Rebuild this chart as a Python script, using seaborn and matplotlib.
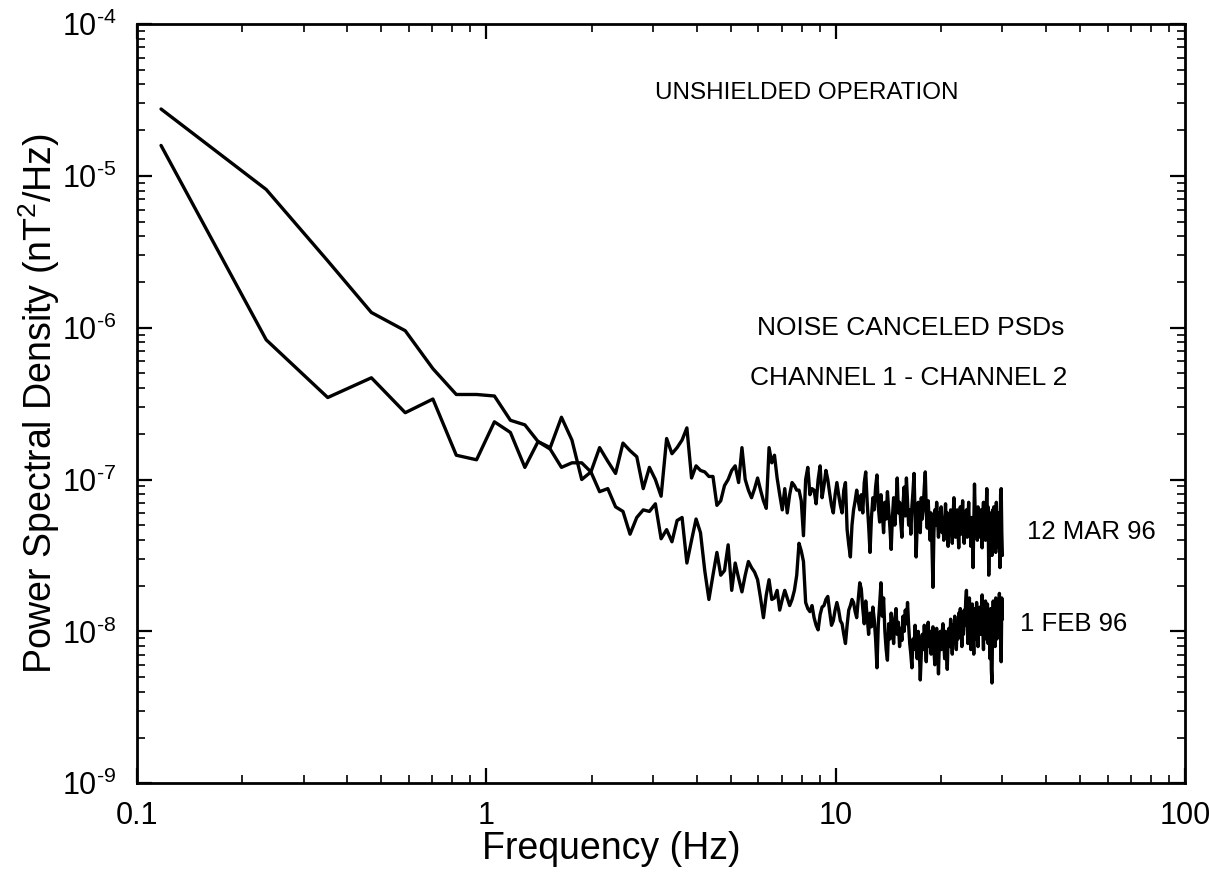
"""
Noise canceled PSDs (channel 1 - channel 2), unshielded operation.
Two runs (1 FEB 96, 12 MAR 96) on log-log axes.
"""
import numpy as np
import pandas as pd
import seaborn as sns
import matplotlib
matplotlib.use("Agg")
import matplotlib.pyplot as plt
from matplotlib.ticker import LogLocator, FuncFormatter, NullFormatter


"""
1. Data (log10 of PSD in nT^2/Hz, one value per FFT bin)
"""
# bin spacing of the spectra, Hz (bins 1..256 -> 0.117 .. 30 Hz)
bin_width_hz = 30 / 256

feb_log10_psd = [
    # bins 1-30
    -4.56, -5.09, -5.56, -5.90, -6.02, -6.27, -6.44, -6.44, -6.45, -6.61,
    -6.64, -6.75, -6.80, -6.92, -6.89, -6.89, -6.95, -7.08, -7.06, -7.18,
    -7.21, -7.36, -7.25, -7.20, -7.21, -7.16, -7.39, -7.33, -7.41, -7.27,
    # bins 31-100
    -7.25, -7.55, -7.40, -7.26, -7.35, -7.60, -7.79, -7.63, -7.48, -7.63,
    -7.60, -7.43, -7.73, -7.55, -7.65, -7.74, -7.63, -7.54, -7.58, -7.61,
    -7.66, -7.78, -7.91, -7.76, -7.66, -7.79, -7.78, -7.73, -7.86, -7.79,
    -7.73, -7.78, -7.83, -7.79, -7.73, -7.63, -7.42, -7.47, -7.54, -7.81,
    -7.85, -7.87, -7.83, -7.91, -7.96, -7.99, -7.89, -7.84, -7.83, -7.79,
    -7.77, -7.87, -7.96, -7.93, -7.86, -7.81, -7.86, -7.93, -7.95, -8.02,
    -8.08, -7.96, -7.86, -7.83, -7.79, -7.81, -7.87, -7.91, -7.79, -7.68,
    # bins 101-256
    -7.72, -7.85, -7.95, -7.80, -7.90, -8.02, -7.88, -7.97, -7.84, -7.92,
    -8.05, -8.24, -7.95, -7.82, -7.68, -7.90, -7.78, -8.00, -8.12, -8.19,
    -7.95, -8.05, -7.88, -7.98, -8.08, -7.92, -7.85, -8.02, -7.94, -8.10,
    -7.98, -8.06, -7.90, -8.00, -7.86, -7.95, -7.81, -7.96, -8.08, -8.15,
    -8.24, -8.05, -8.12, -7.96, -8.08, -8.18, -8.00, -8.10, -8.32, -8.15,
    -8.02, -8.12, -7.96, -8.08, -8.20, -8.03, -7.94, -8.10, -8.00, -8.15,
    -8.05, -7.97, -8.12, -8.22, -8.04, -7.98, -8.10, -8.28, -8.06, -8.00,
    -8.12, -8.02, -7.95, -8.08, -8.18, -8.00, -8.10, -8.25, -8.05, -7.98,
    -8.10, -7.92, -8.04, -8.15, -7.96, -8.06, -7.90, -8.02, -8.12, -7.95,
    -8.05, -7.88, -8.00, -7.85, -7.98, -8.10, -7.92, -8.02, -7.86, -7.96,
    -7.80, -7.73, -7.95, -8.08, -7.88, -7.78, -7.96, -8.12, -7.90, -7.82,
    -7.98, -8.15, -7.92, -7.85, -8.05, -7.81, -7.94, -8.10, -7.88, -7.96,
    -7.84, -8.02, -7.90, -7.76, -7.98, -8.12, -7.86, -7.95, -7.80, -8.05,
    -7.92, -7.82, -8.08, -7.88, -8.00, -8.18, -7.85, -8.25, -8.34, -7.95,
    -7.80, -7.96, -7.85, -8.10, -7.78, -7.92, -8.05, -7.82, -7.98, -7.88,
    -7.75, -8.02, -7.90, -8.20, -7.78, -7.92,
]

mar_log10_psd = [
    # bins 1-30
    -4.80, -6.08, -6.46, -6.33, -6.56, -6.47, -6.84, -6.87, -6.62, -6.69,
    -6.92, -6.75, -6.79, -6.59, -6.74, -7.00, -6.95, -6.79, -6.88, -6.96,
    -6.76, -6.81, -6.85, -7.06, -6.92, -7.00, -7.11, -6.73, -6.83, -6.79,
    # bins 31-100
    -6.74, -6.66, -6.99, -6.91, -6.94, -6.95, -6.98, -6.98, -7.17, -7.14,
    -7.04, -7.00, -6.94, -6.91, -7.02, -6.79, -7.00, -7.07, -7.12, -7.06,
    -6.99, -7.07, -7.14, -7.19, -6.79, -6.89, -6.84, -6.99, -7.10, -7.20,
    -7.06, -7.22, -7.10, -7.02, -7.04, -7.07, -7.07, -7.14, -7.37, -7.00,
    -6.92, -7.10, -7.06, -7.07, -7.16, -7.00, -6.91, -7.12, -7.04, -6.94,
    -7.00, -7.09, -7.17, -7.22, -7.10, -7.02, -7.10, -7.17, -7.22, -7.07,
    -7.02, -7.33, -7.43, -7.51, -7.30, -7.20, -7.14, -7.07, -7.14, -7.20,
    # bins 101-256
    -7.10, -7.22, -7.02, -6.95, -7.15, -7.30, -7.48, -7.25, -7.12, -7.20,
    -7.05, -6.97, -7.18, -7.28, -7.10, -7.22, -7.35, -7.15, -7.26, -7.08,
    -7.20, -7.32, -7.46, -7.25, -7.12, -7.30, -7.18, -6.99, -7.22, -7.15,
    -7.28, -7.38, -7.16, -7.05, -7.24, -6.99, -7.15, -7.30, -7.20, -7.36,
    -7.18, -7.08, -6.96, -7.25, -7.51, -7.30, -7.15, -7.22, -7.35, -7.12,
    -7.26, -7.18, -7.05, -6.95, -7.20, -7.32, -7.14, -7.28, -7.40, -7.22,
    -7.45, -7.71, -7.35, -7.20, -7.30, -7.15, -7.26, -7.38, -7.22, -7.30,
    -7.18, -7.35, -7.25, -7.40, -7.28, -7.16, -7.32, -7.22, -7.44, -7.26,
    -7.34, -7.20, -7.30, -7.42, -7.24, -7.12, -7.30, -7.38, -7.26, -7.20,
    -7.32, -7.45, -7.28, -7.18, -7.36, -7.25, -7.14, -7.30, -7.42, -7.22,
    -7.30, -7.20, -7.38, -7.26, -7.15, -7.33, -7.28, -7.44, -7.25, -7.35,
    -7.58, -7.30, -7.03, -7.22, -7.35, -7.25, -7.40, -7.18, -7.30, -7.26,
    -7.38, -7.20, -7.32, -7.45, -7.24, -7.15, -7.34, -7.28, -7.40, -7.22,
    -7.06, -7.30, -7.18, -7.63, -7.35, -7.22, -7.42, -7.28, -7.50, -7.20,
    -7.32, -7.18, -7.40, -7.26, -7.48, -7.15, -7.30, -7.38, -7.22, -7.45,
    -7.25, -7.58, -7.10, -7.06, -7.35, -7.50,
]

run_names = ["1 FEB 96", "12 MAR 96"]
annotations = ["UNSHIELDED OPERATION", "NOISE CANCELED PSDs",
               "CHANNEL 1 - CHANNEL 2"]
x_ticks = [0.1, 1, 10, 100]
y_ticks = [1e-9, 1e-8, 1e-7, 1e-6, 1e-5, 1e-4]


def to_frame(name, log_vals):
    n = len(log_vals)
    return pd.DataFrame({
        "freq": bin_width_hz * np.arange(1, n + 1),
        "psd": 10.0 ** np.array(log_vals),
        "run": name,
    })


def decade_label(v, pos):
    # hyphen, not a minus sign, as on the original axis
    exp = int(round(np.log10(v)))
    return "10$^{\u2010" + str(abs(exp)) + "}$"


df = pd.concat([to_frame(run_names[0], feb_log10_psd),
                to_frame(run_names[1], mar_log10_psd)], ignore_index=True)


"""
2. Plot
"""
sns.set_theme(style="ticks")
plt.rcParams["font.family"] = ["Liberation Sans", "DejaVu Sans"]
plt.rcParams["mathtext.default"] = "regular"
plt.rcParams["axes.unicode_minus"] = False
plt.rcParams["text.color"] = "black"
plt.rcParams["axes.labelcolor"] = "black"
plt.rcParams["xtick.color"] = "black"
plt.rcParams["ytick.color"] = "black"

fig = plt.figure(figsize=(12.09, 8.88), dpi=100)
ax = fig.add_axes([0.1133, 0.118, 0.8669, 0.855])

sns.lineplot(data=df, x="freq", y="psd", units="run", estimator=None,
             color="black", linewidth=2.4, legend=False, ax=ax)

ax.set_xscale("log")
ax.set_yscale("log")
ax.set_xlim(0.1, 100)
ax.set_ylim(1e-9, 1e-4)

ax.set_xticks(x_ticks)
ax.xaxis.set_minor_locator(LogLocator(base=10, subs=np.arange(2, 10), numticks=20))
ax.xaxis.set_major_formatter(FuncFormatter(lambda v, p: f"{v:g}"))
ax.xaxis.set_minor_formatter(NullFormatter())
ax.set_yticks(y_ticks)
ax.yaxis.set_major_formatter(FuncFormatter(decade_label))
ax.yaxis.set_minor_locator(LogLocator(base=10, subs=np.arange(2, 10), numticks=20))
ax.yaxis.set_minor_formatter(NullFormatter())

ax.tick_params(which="both", direction="in", top=True, right=True,
               colors="black", labelsize=22)
ax.tick_params(which="major", length=11, width=1.6)
ax.tick_params(which="minor", length=6, width=1.2)
ax.tick_params(axis="x", which="major", pad=13)
ax.tick_params(axis="y", which="major", pad=15)
for side in ax.spines.values():
    side.set_linewidth(2.0)
    side.set_color("black")

ax.set_xlabel("Frequency (Hz)", fontsize=27)
ax.set_ylabel("Power Spectral Density (nT$^2$/Hz)", fontsize=27)
ax.xaxis.label.set_va("center")
ax.yaxis.label.set_va("center")
ax.xaxis.set_label_coords(0.453, -0.086)
ax.yaxis.set_label_coords(-0.093, 0.5)

# text annotations
ax.text(3.03, 3.5e-5, annotations[0], fontsize=17.5, ha="left", va="center")
ax.text(16.4, 1.0e-6, annotations[1], fontsize=19, ha="center", va="center")
ax.text(16.2, 4.65e-7, annotations[2], fontsize=19, ha="center", va="center")
ax.text(35.3, 4.5e-8, run_names[1], fontsize=18.5, ha="left", va="center")
ax.text(33.7, 1.11e-8, run_names[0], fontsize=18.5, ha="left", va="center")

plt.savefig("out.png", dpi=100)
